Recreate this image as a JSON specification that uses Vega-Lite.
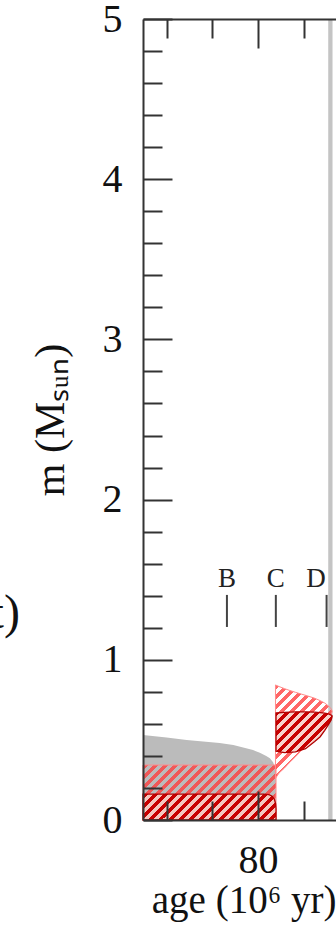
{
  "$schema": "https://vega.github.io/schema/vega-lite/v6.json",
  "autosize": "none",
  "width": 193,
  "height": 801,
  "padding": {"left": 143, "top": 19, "right": 0, "bottom": 114},
  "background": "white",
  "config": {
    "view": {"stroke": null},
    "font": "Liberation Serif",
    "axis": {
      "labelFont": "Liberation Serif", "titleFont": "Liberation Serif",
      "labelColor": "#111", "titleColor": "#111",
      "domainColor": "#333", "tickColor": "#333",
      "domainWidth": 2, "tickWidth": 2, "grid": false,
      "titleFontWeight": "normal", "labelFlush": false
    }
  },
  "datasets": {
    "band": [{"start": 87.68, "end": 88.15}],
    "grey": [
      {"age": 67.42, "m": 0.53}, {"age": 70.0, "m": 0.515}, {"age": 72.2, "m": 0.5},
      {"age": 75.8, "m": 0.48}, {"age": 77.3, "m": 0.468}, {"age": 79.45, "m": 0.437},
      {"age": 80.2, "m": 0.42}, {"age": 80.9, "m": 0.4}, {"age": 81.3, "m": 0.385},
      {"age": 81.65, "m": 0.36}, {"age": 81.85, "m": 0.33}, {"age": 81.97, "m": 0.3}
    ],
    "lightrect": [{"age": 67.42, "m": 0.343}, {"age": 81.97, "m": 0.343}],
    "darkrect": [
      {"age": 67.42, "m": 0.162}, {"age": 80.6, "m": 0.162}, {"age": 81.2, "m": 0.158},
      {"age": 81.55, "m": 0.148}, {"age": 81.8, "m": 0.128}, {"age": 81.93, "m": 0.1},
      {"age": 81.97, "m": 0.07}
    ],
    "lightflame": [
      {"age": 81.91, "hi": 0.843, "lo": 0.26}, {"age": 82.3, "hi": 0.833, "lo": 0.293},
      {"age": 82.9, "hi": 0.82, "lo": 0.325}, {"age": 83.4, "hi": 0.81, "lo": 0.356},
      {"age": 84.1, "hi": 0.797, "lo": 0.395}, {"age": 84.8, "hi": 0.785, "lo": 0.437},
      {"age": 85.5, "hi": 0.773, "lo": 0.478}, {"age": 86.2, "hi": 0.76, "lo": 0.518},
      {"age": 86.8, "hi": 0.745, "lo": 0.565}, {"age": 87.3, "hi": 0.73, "lo": 0.603},
      {"age": 87.7, "hi": 0.712, "lo": 0.635}, {"age": 88.0, "hi": 0.695, "lo": 0.66},
      {"age": 88.1, "hi": 0.68, "lo": 0.675}
    ],
    "darkflame": [
      {"age": 81.97, "hi": 0.668, "lo": 0.43}, {"age": 82.9, "hi": 0.672, "lo": 0.42},
      {"age": 84.1, "hi": 0.675, "lo": 0.425}, {"age": 85.2, "hi": 0.675, "lo": 0.445},
      {"age": 86.2, "hi": 0.673, "lo": 0.49}, {"age": 86.8, "hi": 0.67, "lo": 0.52},
      {"age": 87.3, "hi": 0.667, "lo": 0.56}, {"age": 87.7, "hi": 0.662, "lo": 0.595},
      {"age": 88.0, "hi": 0.655, "lo": 0.625}, {"age": 88.1, "hi": 0.65, "lo": 0.645}
    ],
    "markers": [
      {"name": "B", "age": 76.6, "label_age": 76.6},
      {"name": "C", "age": 81.95, "label_age": 81.95},
      {"name": "D", "age": 87.5, "label_age": 86.35}
    ],
    "fragment": [{"label": "t)", "age": 53.96, "m": 1.198}]
  },
  "resolve": {"axis": {"x": "independent", "y": "independent"}},
  "layer": [
    {
      "data": {"name": "grey"},
      "mark": {"type": "area", "color": "#bbbbbb", "orient": "vertical"},
      "encoding": {
        "x": {"field": "age", "type": "quantitative",
          "scale": {"domain": [67.42, 88.53], "nice": false, "zero": false},
          "axis": {"orient": "bottom", "values": [80], "ticks": false, "domain": true,
            "labelFontSize": 40, "labelPadding": 20, "title": "age (10⁶ yr)",
            "titleFontSize": 39, "titlePadding": 1, "titleAnchor": "end", "zindex": 1}},
        "y": {"field": "m", "type": "quantitative",
          "scale": {"domain": [0, 5], "nice": false, "zero": false},
          "axis": {"orient": "left", "values": [0, 1, 2, 3, 4, 5], "ticks": false, "domain": true,
            "labelFontSize": 40, "labelPadding": 21, "title": "m (Mₛᵤₙ)",
            "titleFontSize": 42, "titlePadding": 30, "zindex": 1}},
        "y2": {"datum": 0}
      }
    },
    {
      "data": {"name": "band"},
      "mark": {"type": "rect", "color": "#c4c4c4"},
      "encoding": {
        "x": {"field": "start", "type": "quantitative",
          "scale": {"domain": [67.42, 88.53], "nice": false, "zero": false}, "axis": null},
        "x2": {"field": "end"},
        "y": {"datum": 0, "type": "quantitative", "scale": {"domain": [0, 5], "nice": false, "zero": false}, "axis": null},
        "y2": {"datum": 5}
      }
    },
    {
      "data": {"name": "lightrect"},
      "mark": {"type": "area", "orient": "vertical", "stroke": "#ff8c8c", "strokeWidth": 1,
        "fill": {"gradient": "linear", "x1": 0, "y1": 0, "x2": 1.2199, "y2": 0.5045, "stops": [
          {"offset": 0, "color": "rgba(255,60,60,0.78)"}, {"offset": 0.0263, "color": "rgba(255,60,60,0.78)"}, {"offset": 0.0263, "color": "rgba(255,255,255,0)"}, {"offset": 0.0526, "color": "rgba(255,255,255,0)"},
          {"offset": 0.0526, "color": "rgba(255,60,60,0.78)"}, {"offset": 0.0789, "color": "rgba(255,60,60,0.78)"}, {"offset": 0.0789, "color": "rgba(255,255,255,0)"}, {"offset": 0.1053, "color": "rgba(255,255,255,0)"},
          {"offset": 0.1053, "color": "rgba(255,60,60,0.78)"}, {"offset": 0.1316, "color": "rgba(255,60,60,0.78)"}, {"offset": 0.1316, "color": "rgba(255,255,255,0)"}, {"offset": 0.1579, "color": "rgba(255,255,255,0)"},
          {"offset": 0.1579, "color": "rgba(255,60,60,0.78)"}, {"offset": 0.1842, "color": "rgba(255,60,60,0.78)"}, {"offset": 0.1842, "color": "rgba(255,255,255,0)"}, {"offset": 0.2105, "color": "rgba(255,255,255,0)"},
          {"offset": 0.2105, "color": "rgba(255,60,60,0.78)"}, {"offset": 0.2368, "color": "rgba(255,60,60,0.78)"}, {"offset": 0.2368, "color": "rgba(255,255,255,0)"}, {"offset": 0.2632, "color": "rgba(255,255,255,0)"},
          {"offset": 0.2632, "color": "rgba(255,60,60,0.78)"}, {"offset": 0.2895, "color": "rgba(255,60,60,0.78)"}, {"offset": 0.2895, "color": "rgba(255,255,255,0)"}, {"offset": 0.3158, "color": "rgba(255,255,255,0)"},
          {"offset": 0.3158, "color": "rgba(255,60,60,0.78)"}, {"offset": 0.3421, "color": "rgba(255,60,60,0.78)"}, {"offset": 0.3421, "color": "rgba(255,255,255,0)"}, {"offset": 0.3684, "color": "rgba(255,255,255,0)"},
          {"offset": 0.3684, "color": "rgba(255,60,60,0.78)"}, {"offset": 0.3947, "color": "rgba(255,60,60,0.78)"}, {"offset": 0.3947, "color": "rgba(255,255,255,0)"}, {"offset": 0.4211, "color": "rgba(255,255,255,0)"},
          {"offset": 0.4211, "color": "rgba(255,60,60,0.78)"}, {"offset": 0.4474, "color": "rgba(255,60,60,0.78)"}, {"offset": 0.4474, "color": "rgba(255,255,255,0)"}, {"offset": 0.4737, "color": "rgba(255,255,255,0)"},
          {"offset": 0.4737, "color": "rgba(255,60,60,0.78)"}, {"offset": 0.5, "color": "rgba(255,60,60,0.78)"}, {"offset": 0.5, "color": "rgba(255,255,255,0)"}, {"offset": 0.5263, "color": "rgba(255,255,255,0)"},
          {"offset": 0.5263, "color": "rgba(255,60,60,0.78)"}, {"offset": 0.5526, "color": "rgba(255,60,60,0.78)"}, {"offset": 0.5526, "color": "rgba(255,255,255,0)"}, {"offset": 0.5789, "color": "rgba(255,255,255,0)"},
          {"offset": 0.5789, "color": "rgba(255,60,60,0.78)"}, {"offset": 0.6053, "color": "rgba(255,60,60,0.78)"}, {"offset": 0.6053, "color": "rgba(255,255,255,0)"}, {"offset": 0.6316, "color": "rgba(255,255,255,0)"},
          {"offset": 0.6316, "color": "rgba(255,60,60,0.78)"}, {"offset": 0.6579, "color": "rgba(255,60,60,0.78)"}, {"offset": 0.6579, "color": "rgba(255,255,255,0)"}, {"offset": 0.6842, "color": "rgba(255,255,255,0)"},
          {"offset": 0.6842, "color": "rgba(255,60,60,0.78)"}, {"offset": 0.7105, "color": "rgba(255,60,60,0.78)"}, {"offset": 0.7105, "color": "rgba(255,255,255,0)"}, {"offset": 0.7368, "color": "rgba(255,255,255,0)"},
          {"offset": 0.7368, "color": "rgba(255,60,60,0.78)"}, {"offset": 0.7632, "color": "rgba(255,60,60,0.78)"}, {"offset": 0.7632, "color": "rgba(255,255,255,0)"}, {"offset": 0.7895, "color": "rgba(255,255,255,0)"},
          {"offset": 0.7895, "color": "rgba(255,60,60,0.78)"}, {"offset": 0.8158, "color": "rgba(255,60,60,0.78)"}, {"offset": 0.8158, "color": "rgba(255,255,255,0)"}, {"offset": 0.8421, "color": "rgba(255,255,255,0)"},
          {"offset": 0.8421, "color": "rgba(255,60,60,0.78)"}, {"offset": 0.8684, "color": "rgba(255,60,60,0.78)"}, {"offset": 0.8684, "color": "rgba(255,255,255,0)"}, {"offset": 0.8947, "color": "rgba(255,255,255,0)"},
          {"offset": 0.8947, "color": "rgba(255,60,60,0.78)"}, {"offset": 0.9211, "color": "rgba(255,60,60,0.78)"}, {"offset": 0.9211, "color": "rgba(255,255,255,0)"}, {"offset": 0.9474, "color": "rgba(255,255,255,0)"},
          {"offset": 0.9474, "color": "rgba(255,60,60,0.78)"}, {"offset": 0.9737, "color": "rgba(255,60,60,0.78)"}, {"offset": 0.9737, "color": "rgba(255,255,255,0)"}, {"offset": 1, "color": "rgba(255,255,255,0)"}
        ]}},
      "encoding": {
        "x": {"field": "age", "type": "quantitative",
          "scale": {"domain": [67.42, 88.53], "nice": false, "zero": false},
          "axis": {"orient": "bottom", "values": [70, 75, 80, 85], "labels": false, "domain": false, "title": null,
            "tickSize": {"condition": {"test": "datum.value == 80", "value": -29}, "value": -19}, "zindex": 1}},
        "y": {"field": "m", "type": "quantitative",
          "scale": {"domain": [0, 5], "nice": false, "zero": false},
          "axis": {"orient": "left", "values": [0, 0.2, 0.4, 0.6, 0.8, 1, 1.2, 1.4, 1.6, 1.8, 2, 2.2, 2.4, 2.6, 2.8, 3, 3.2, 3.4, 3.6, 3.8, 4, 4.2, 4.4, 4.6, 4.8, 5],
            "labels": false, "domain": false, "title": null,
            "tickSize": {"condition": {"test": "abs(datum.value - round(datum.value)) < 0.01", "value": -29}, "value": -19}, "zindex": 1}},
        "y2": {"datum": 0}
      }
    },
    {
      "data": {"name": "darkrect"},
      "mark": {"type": "area", "orient": "vertical", "stroke": "#b00000", "strokeWidth": 1.3,
        "fill": {"gradient": "linear", "x1": 0, "y1": 0, "x2": 1.376, "y2": 0.269, "stops": [
          {"offset": 0, "color": "#c80000"}, {"offset": 0.0263, "color": "#c80000"}, {"offset": 0.0263, "color": "#f4c6be"}, {"offset": 0.0526, "color": "#f4c6be"},
          {"offset": 0.0526, "color": "#c80000"}, {"offset": 0.0789, "color": "#c80000"}, {"offset": 0.0789, "color": "#f4c6be"}, {"offset": 0.1053, "color": "#f4c6be"},
          {"offset": 0.1053, "color": "#c80000"}, {"offset": 0.1316, "color": "#c80000"}, {"offset": 0.1316, "color": "#f4c6be"}, {"offset": 0.1579, "color": "#f4c6be"},
          {"offset": 0.1579, "color": "#c80000"}, {"offset": 0.1842, "color": "#c80000"}, {"offset": 0.1842, "color": "#f4c6be"}, {"offset": 0.2105, "color": "#f4c6be"},
          {"offset": 0.2105, "color": "#c80000"}, {"offset": 0.2368, "color": "#c80000"}, {"offset": 0.2368, "color": "#f4c6be"}, {"offset": 0.2632, "color": "#f4c6be"},
          {"offset": 0.2632, "color": "#c80000"}, {"offset": 0.2895, "color": "#c80000"}, {"offset": 0.2895, "color": "#f4c6be"}, {"offset": 0.3158, "color": "#f4c6be"},
          {"offset": 0.3158, "color": "#c80000"}, {"offset": 0.3421, "color": "#c80000"}, {"offset": 0.3421, "color": "#f4c6be"}, {"offset": 0.3684, "color": "#f4c6be"},
          {"offset": 0.3684, "color": "#c80000"}, {"offset": 0.3947, "color": "#c80000"}, {"offset": 0.3947, "color": "#f4c6be"}, {"offset": 0.4211, "color": "#f4c6be"},
          {"offset": 0.4211, "color": "#c80000"}, {"offset": 0.4474, "color": "#c80000"}, {"offset": 0.4474, "color": "#f4c6be"}, {"offset": 0.4737, "color": "#f4c6be"},
          {"offset": 0.4737, "color": "#c80000"}, {"offset": 0.5, "color": "#c80000"}, {"offset": 0.5, "color": "#f4c6be"}, {"offset": 0.5263, "color": "#f4c6be"},
          {"offset": 0.5263, "color": "#c80000"}, {"offset": 0.5526, "color": "#c80000"}, {"offset": 0.5526, "color": "#f4c6be"}, {"offset": 0.5789, "color": "#f4c6be"},
          {"offset": 0.5789, "color": "#c80000"}, {"offset": 0.6053, "color": "#c80000"}, {"offset": 0.6053, "color": "#f4c6be"}, {"offset": 0.6316, "color": "#f4c6be"},
          {"offset": 0.6316, "color": "#c80000"}, {"offset": 0.6579, "color": "#c80000"}, {"offset": 0.6579, "color": "#f4c6be"}, {"offset": 0.6842, "color": "#f4c6be"},
          {"offset": 0.6842, "color": "#c80000"}, {"offset": 0.7105, "color": "#c80000"}, {"offset": 0.7105, "color": "#f4c6be"}, {"offset": 0.7368, "color": "#f4c6be"},
          {"offset": 0.7368, "color": "#c80000"}, {"offset": 0.7632, "color": "#c80000"}, {"offset": 0.7632, "color": "#f4c6be"}, {"offset": 0.7895, "color": "#f4c6be"},
          {"offset": 0.7895, "color": "#c80000"}, {"offset": 0.8158, "color": "#c80000"}, {"offset": 0.8158, "color": "#f4c6be"}, {"offset": 0.8421, "color": "#f4c6be"},
          {"offset": 0.8421, "color": "#c80000"}, {"offset": 0.8684, "color": "#c80000"}, {"offset": 0.8684, "color": "#f4c6be"}, {"offset": 0.8947, "color": "#f4c6be"},
          {"offset": 0.8947, "color": "#c80000"}, {"offset": 0.9211, "color": "#c80000"}, {"offset": 0.9211, "color": "#f4c6be"}, {"offset": 0.9474, "color": "#f4c6be"},
          {"offset": 0.9474, "color": "#c80000"}, {"offset": 0.9737, "color": "#c80000"}, {"offset": 0.9737, "color": "#f4c6be"}, {"offset": 1, "color": "#f4c6be"}
        ]}},
      "encoding": {
        "x": {"field": "age", "type": "quantitative",
          "scale": {"domain": [67.42, 88.53], "nice": false, "zero": false},
          "axis": {"orient": "top", "values": [70, 75, 80, 85], "labels": false, "domain": true, "title": null,
            "tickSize": {"condition": {"test": "datum.value == 80", "value": -29}, "value": -19}, "zindex": 1}},
        "y": {"field": "m", "type": "quantitative",
          "scale": {"domain": [0, 5], "nice": false, "zero": false}, "axis": null},
        "y2": {"datum": 0}
      }
    },
    {
      "data": {"name": "lightflame"},
      "mark": {"type": "area", "orient": "vertical", "stroke": "#ff8c8c", "strokeWidth": 1,
        "fill": {"gradient": "linear", "x1": 0, "y1": 0, "x2": 0.9016, "y2": 1.4878, "stops": [
          {"offset": 0, "color": "rgba(255,60,60,0.78)"}, {"offset": 0.0263, "color": "rgba(255,60,60,0.78)"}, {"offset": 0.0263, "color": "rgba(255,255,255,0)"}, {"offset": 0.0526, "color": "rgba(255,255,255,0)"},
          {"offset": 0.0526, "color": "rgba(255,60,60,0.78)"}, {"offset": 0.0789, "color": "rgba(255,60,60,0.78)"}, {"offset": 0.0789, "color": "rgba(255,255,255,0)"}, {"offset": 0.1053, "color": "rgba(255,255,255,0)"},
          {"offset": 0.1053, "color": "rgba(255,60,60,0.78)"}, {"offset": 0.1316, "color": "rgba(255,60,60,0.78)"}, {"offset": 0.1316, "color": "rgba(255,255,255,0)"}, {"offset": 0.1579, "color": "rgba(255,255,255,0)"},
          {"offset": 0.1579, "color": "rgba(255,60,60,0.78)"}, {"offset": 0.1842, "color": "rgba(255,60,60,0.78)"}, {"offset": 0.1842, "color": "rgba(255,255,255,0)"}, {"offset": 0.2105, "color": "rgba(255,255,255,0)"},
          {"offset": 0.2105, "color": "rgba(255,60,60,0.78)"}, {"offset": 0.2368, "color": "rgba(255,60,60,0.78)"}, {"offset": 0.2368, "color": "rgba(255,255,255,0)"}, {"offset": 0.2632, "color": "rgba(255,255,255,0)"},
          {"offset": 0.2632, "color": "rgba(255,60,60,0.78)"}, {"offset": 0.2895, "color": "rgba(255,60,60,0.78)"}, {"offset": 0.2895, "color": "rgba(255,255,255,0)"}, {"offset": 0.3158, "color": "rgba(255,255,255,0)"},
          {"offset": 0.3158, "color": "rgba(255,60,60,0.78)"}, {"offset": 0.3421, "color": "rgba(255,60,60,0.78)"}, {"offset": 0.3421, "color": "rgba(255,255,255,0)"}, {"offset": 0.3684, "color": "rgba(255,255,255,0)"},
          {"offset": 0.3684, "color": "rgba(255,60,60,0.78)"}, {"offset": 0.3947, "color": "rgba(255,60,60,0.78)"}, {"offset": 0.3947, "color": "rgba(255,255,255,0)"}, {"offset": 0.4211, "color": "rgba(255,255,255,0)"},
          {"offset": 0.4211, "color": "rgba(255,60,60,0.78)"}, {"offset": 0.4474, "color": "rgba(255,60,60,0.78)"}, {"offset": 0.4474, "color": "rgba(255,255,255,0)"}, {"offset": 0.4737, "color": "rgba(255,255,255,0)"},
          {"offset": 0.4737, "color": "rgba(255,60,60,0.78)"}, {"offset": 0.5, "color": "rgba(255,60,60,0.78)"}, {"offset": 0.5, "color": "rgba(255,255,255,0)"}, {"offset": 0.5263, "color": "rgba(255,255,255,0)"},
          {"offset": 0.5263, "color": "rgba(255,60,60,0.78)"}, {"offset": 0.5526, "color": "rgba(255,60,60,0.78)"}, {"offset": 0.5526, "color": "rgba(255,255,255,0)"}, {"offset": 0.5789, "color": "rgba(255,255,255,0)"},
          {"offset": 0.5789, "color": "rgba(255,60,60,0.78)"}, {"offset": 0.6053, "color": "rgba(255,60,60,0.78)"}, {"offset": 0.6053, "color": "rgba(255,255,255,0)"}, {"offset": 0.6316, "color": "rgba(255,255,255,0)"},
          {"offset": 0.6316, "color": "rgba(255,60,60,0.78)"}, {"offset": 0.6579, "color": "rgba(255,60,60,0.78)"}, {"offset": 0.6579, "color": "rgba(255,255,255,0)"}, {"offset": 0.6842, "color": "rgba(255,255,255,0)"},
          {"offset": 0.6842, "color": "rgba(255,60,60,0.78)"}, {"offset": 0.7105, "color": "rgba(255,60,60,0.78)"}, {"offset": 0.7105, "color": "rgba(255,255,255,0)"}, {"offset": 0.7368, "color": "rgba(255,255,255,0)"},
          {"offset": 0.7368, "color": "rgba(255,60,60,0.78)"}, {"offset": 0.7632, "color": "rgba(255,60,60,0.78)"}, {"offset": 0.7632, "color": "rgba(255,255,255,0)"}, {"offset": 0.7895, "color": "rgba(255,255,255,0)"},
          {"offset": 0.7895, "color": "rgba(255,60,60,0.78)"}, {"offset": 0.8158, "color": "rgba(255,60,60,0.78)"}, {"offset": 0.8158, "color": "rgba(255,255,255,0)"}, {"offset": 0.8421, "color": "rgba(255,255,255,0)"},
          {"offset": 0.8421, "color": "rgba(255,60,60,0.78)"}, {"offset": 0.8684, "color": "rgba(255,60,60,0.78)"}, {"offset": 0.8684, "color": "rgba(255,255,255,0)"}, {"offset": 0.8947, "color": "rgba(255,255,255,0)"},
          {"offset": 0.8947, "color": "rgba(255,60,60,0.78)"}, {"offset": 0.9211, "color": "rgba(255,60,60,0.78)"}, {"offset": 0.9211, "color": "rgba(255,255,255,0)"}, {"offset": 0.9474, "color": "rgba(255,255,255,0)"},
          {"offset": 0.9474, "color": "rgba(255,60,60,0.78)"}, {"offset": 0.9737, "color": "rgba(255,60,60,0.78)"}, {"offset": 0.9737, "color": "rgba(255,255,255,0)"}, {"offset": 1, "color": "rgba(255,255,255,0)"}
        ]}},
      "encoding": {
        "x": {"field": "age", "type": "quantitative",
          "scale": {"domain": [67.42, 88.53], "nice": false, "zero": false}, "axis": null},
        "y": {"field": "hi", "type": "quantitative",
          "scale": {"domain": [0, 5], "nice": false, "zero": false}, "axis": null},
        "y2": {"field": "lo"}
      }
    },
    {
      "data": {"name": "darkflame"},
      "mark": {"type": "area", "orient": "vertical", "stroke": "#b00000", "strokeWidth": 1.3,
        "fill": {"gradient": "linear", "x1": 0, "y1": 0, "x2": 2.2015, "y2": 1.6197, "stops": [
          {"offset": 0, "color": "#c80000"}, {"offset": 0.0263, "color": "#c80000"}, {"offset": 0.0263, "color": "#f8d2cc"}, {"offset": 0.0526, "color": "#f8d2cc"},
          {"offset": 0.0526, "color": "#c80000"}, {"offset": 0.0789, "color": "#c80000"}, {"offset": 0.0789, "color": "#f8d2cc"}, {"offset": 0.1053, "color": "#f8d2cc"},
          {"offset": 0.1053, "color": "#c80000"}, {"offset": 0.1316, "color": "#c80000"}, {"offset": 0.1316, "color": "#f8d2cc"}, {"offset": 0.1579, "color": "#f8d2cc"},
          {"offset": 0.1579, "color": "#c80000"}, {"offset": 0.1842, "color": "#c80000"}, {"offset": 0.1842, "color": "#f8d2cc"}, {"offset": 0.2105, "color": "#f8d2cc"},
          {"offset": 0.2105, "color": "#c80000"}, {"offset": 0.2368, "color": "#c80000"}, {"offset": 0.2368, "color": "#f8d2cc"}, {"offset": 0.2632, "color": "#f8d2cc"},
          {"offset": 0.2632, "color": "#c80000"}, {"offset": 0.2895, "color": "#c80000"}, {"offset": 0.2895, "color": "#f8d2cc"}, {"offset": 0.3158, "color": "#f8d2cc"},
          {"offset": 0.3158, "color": "#c80000"}, {"offset": 0.3421, "color": "#c80000"}, {"offset": 0.3421, "color": "#f8d2cc"}, {"offset": 0.3684, "color": "#f8d2cc"},
          {"offset": 0.3684, "color": "#c80000"}, {"offset": 0.3947, "color": "#c80000"}, {"offset": 0.3947, "color": "#f8d2cc"}, {"offset": 0.4211, "color": "#f8d2cc"},
          {"offset": 0.4211, "color": "#c80000"}, {"offset": 0.4474, "color": "#c80000"}, {"offset": 0.4474, "color": "#f8d2cc"}, {"offset": 0.4737, "color": "#f8d2cc"},
          {"offset": 0.4737, "color": "#c80000"}, {"offset": 0.5, "color": "#c80000"}, {"offset": 0.5, "color": "#f8d2cc"}, {"offset": 0.5263, "color": "#f8d2cc"},
          {"offset": 0.5263, "color": "#c80000"}, {"offset": 0.5526, "color": "#c80000"}, {"offset": 0.5526, "color": "#f8d2cc"}, {"offset": 0.5789, "color": "#f8d2cc"},
          {"offset": 0.5789, "color": "#c80000"}, {"offset": 0.6053, "color": "#c80000"}, {"offset": 0.6053, "color": "#f8d2cc"}, {"offset": 0.6316, "color": "#f8d2cc"},
          {"offset": 0.6316, "color": "#c80000"}, {"offset": 0.6579, "color": "#c80000"}, {"offset": 0.6579, "color": "#f8d2cc"}, {"offset": 0.6842, "color": "#f8d2cc"},
          {"offset": 0.6842, "color": "#c80000"}, {"offset": 0.7105, "color": "#c80000"}, {"offset": 0.7105, "color": "#f8d2cc"}, {"offset": 0.7368, "color": "#f8d2cc"},
          {"offset": 0.7368, "color": "#c80000"}, {"offset": 0.7632, "color": "#c80000"}, {"offset": 0.7632, "color": "#f8d2cc"}, {"offset": 0.7895, "color": "#f8d2cc"},
          {"offset": 0.7895, "color": "#c80000"}, {"offset": 0.8158, "color": "#c80000"}, {"offset": 0.8158, "color": "#f8d2cc"}, {"offset": 0.8421, "color": "#f8d2cc"},
          {"offset": 0.8421, "color": "#c80000"}, {"offset": 0.8684, "color": "#c80000"}, {"offset": 0.8684, "color": "#f8d2cc"}, {"offset": 0.8947, "color": "#f8d2cc"},
          {"offset": 0.8947, "color": "#c80000"}, {"offset": 0.9211, "color": "#c80000"}, {"offset": 0.9211, "color": "#f8d2cc"}, {"offset": 0.9474, "color": "#f8d2cc"},
          {"offset": 0.9474, "color": "#c80000"}, {"offset": 0.9737, "color": "#c80000"}, {"offset": 0.9737, "color": "#f8d2cc"}, {"offset": 1, "color": "#f8d2cc"}
        ]}},
      "encoding": {
        "x": {"field": "age", "type": "quantitative",
          "scale": {"domain": [67.42, 88.53], "nice": false, "zero": false}, "axis": null},
        "y": {"field": "hi", "type": "quantitative",
          "scale": {"domain": [0, 5], "nice": false, "zero": false}, "axis": null},
        "y2": {"field": "lo"}
      }
    },
    {
      "data": {"name": "markers"},
      "mark": {"type": "rule", "color": "#444444", "strokeWidth": 2},
      "encoding": {
        "x": {"field": "age", "type": "quantitative",
          "scale": {"domain": [67.42, 88.53], "nice": false, "zero": false}, "axis": null},
        "y": {"datum": 1.205, "type": "quantitative",
          "scale": {"domain": [0, 5], "nice": false, "zero": false}, "axis": null},
        "y2": {"datum": 1.405}
      }
    },
    {
      "data": {"name": "markers"},
      "mark": {"type": "text", "font": "Liberation Serif", "fontSize": 27, "color": "#222222", "align": "center", "baseline": "alphabetic"},
      "encoding": {
        "x": {"field": "label_age", "type": "quantitative",
          "scale": {"domain": [67.42, 88.53], "nice": false, "zero": false}, "axis": null},
        "y": {"datum": 1.454, "type": "quantitative",
          "scale": {"domain": [0, 5], "nice": false, "zero": false}, "axis": null},
        "text": {"field": "name"}
      }
    },
    {
      "data": {"name": "fragment"},
      "mark": {"type": "text", "font": "Liberation Serif", "fontSize": 48, "color": "#111111", "align": "right", "baseline": "alphabetic"},
      "encoding": {
        "x": {"field": "age", "type": "quantitative",
          "scale": {"domain": [67.42, 88.53], "nice": false, "zero": false}, "axis": null},
        "y": {"field": "m", "type": "quantitative",
          "scale": {"domain": [0, 5], "nice": false, "zero": false}, "axis": null},
        "text": {"field": "label"}
      }
    }
  ]
}
